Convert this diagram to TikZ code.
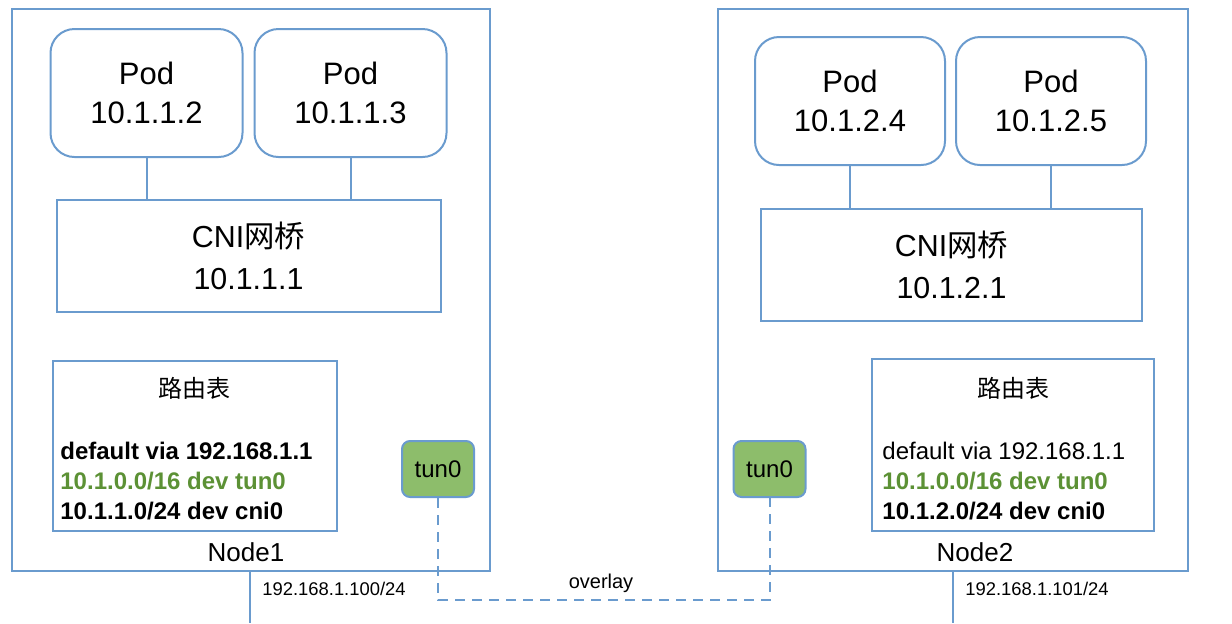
\documentclass[tikz,border=0pt]{standalone}
\usepackage{fontspec}
\setmainfont{Liberation Sans}
\newfontfamily\cjk{Noto Sans CJK SC}
\usepackage{tikz}
\usetikzlibrary{
  calc,%
  positioning
}
\definecolor{linkblue}{RGB}{106,155,206}
\definecolor{tunfill}{RGB}{141,189,107}
\definecolor{routegreen}{RGB}{92,145,53}
\tikzset{>=latex}
\tikzset{
  hostbox/.style={draw=linkblue, line width=1pt, minimum width=239pt, minimum height=281pt, inner sep=0pt},
  podbox/.style={draw=linkblue, line width=1pt, rounded corners=12pt, minimum width=96pt, minimum height=64pt,
    align=center, font=\fontsize{15.5}{19.5}\selectfont, inner sep=0pt},
  cnibox/.style={draw=linkblue, line width=1pt, minimum width=192pt, minimum height=56pt,
    align=center, font=\fontsize{15.2}{21}\selectfont, inner sep=0pt},
  routebox/.style={draw=linkblue, line width=1pt, minimum width=142pt, minimum height=85pt, inner sep=0pt},
  tunbox/.style={draw=linkblue, fill=tunfill, line width=1pt, rounded corners=4pt, minimum width=36pt,
    minimum height=28pt, font=\fontsize{12}{14}\selectfont, inner sep=0pt},
  rtitle/.style={font=\cjk\fontsize{12}{14}\selectfont, inner sep=0pt},
  rlines/.style={anchor=west, align=left, font=\fontsize{12}{15}\selectfont, inner sep=0pt},
  hostlabel/.style={font=\fontsize{13}{15}\selectfont, inner sep=0pt},
  iplabel/.style={anchor=west, font=\fontsize{9.2}{11}\selectfont, inner sep=0pt},
  link/.style={draw=linkblue, line width=1pt},
  overlaylink/.style={draw=linkblue, line width=1pt, dash pattern=on 5pt off 3.5pt}
}

\begin{document}
\begin{tikzpicture}[x=0.5pt, y=-0.5pt]
  \useasboundingbox (0,0) rectangle (1232,623); %
  % Node1
  \node[hostbox] (node1) at (251,290) {}; %
  \node[podbox] (pod1) at (146.5,93) {Pod\\10.1.1.2}; %
  \node[podbox] (pod2) at (350.5,93) {Pod\\10.1.1.3}; %
  \node[cnibox] (cni1) at (248.5,256) {CNI{\cjk 网桥}\\10.1.1.1}; %
  \node[routebox] (route1) at (194.5,446) {}; %
  \node[rtitle] (rt1) at (194,388) {路由表}; %
  \node[rlines] (rl1) at (60,481) {\bfseries default via 192.168.1.1\\
    \textcolor{routegreen}{\bfseries 10.1.0.0/16 dev tun0}\\
    \bfseries 10.1.1.0/24 dev cni0}; %
  \node[tunbox] (tun1) at (438,469) {tun0}; %
  \node[hostlabel] (n1lbl) at (246,552) {Node1}; %
  % Node2
  \node[hostbox, minimum width=235pt] (node2) at (953,290) {}; %
  \node[podbox, minimum width=95pt] (pod3) at (850,101) {Pod\\10.1.2.4}; %
  \node[podbox, minimum width=95pt] (pod4) at (1051,101) {Pod\\10.1.2.5}; %
  \node[cnibox, minimum width=190.5pt] (cni2) at (951.5,265) {CNI{\cjk 网桥}\\10.1.2.1}; %
  \node[routebox, minimum width=141pt, minimum height=86pt] (route2) at (1013,445) {}; %
  \node[rtitle] (rt2) at (1013,388) {路由表}; %
  \node[rlines] (rl2) at (882,481) {default via 192.168.1.1\\
    \textcolor{routegreen}{\bfseries 10.1.0.0/16 dev tun0}\\
    \bfseries 10.1.2.0/24 dev cni0}; %
  \node[tunbox] (tun2) at (769.5,469) {tun0}; %
  \node[hostlabel] (n2lbl) at (975,552) {Node2}; %
  % pods to bridges
  \draw[link] (pod1.south) -- (pod1.south |- cni1.north); %
  \draw[link] (pod2.south) -- (pod2.south |- cni1.north); %
  \draw[link] (pod3.south) -- (pod3.south |- cni2.north); %
  \draw[link] (pod4.south) -- (pod4.south |- cni2.north); %
  % host uplinks
  \coordinate (eth1) at (250,623); %
  \coordinate (eth2) at (953,623); %
  \draw[link] (eth1 |- node1.south) -- (eth1); %
  \draw[link] (node2.south) -- (eth2); %
  \node[iplabel] (ip1) at (262,589) {192.168.1.100/24}; %
  \node[iplabel] (ip2) at (965,589) {192.168.1.101/24}; %
  % overlay tunnel
  \coordinate (ovl) at (600,600); %
  \draw[overlaylink] (tun1.south) -- (tun1.south |- ovl) -| (tun2.south); %
  \node[font=\fontsize{10}{12}\selectfont, inner sep=0pt] (ovlbl) at (601,583) {overlay}; %
\end{tikzpicture}
\end{document}
